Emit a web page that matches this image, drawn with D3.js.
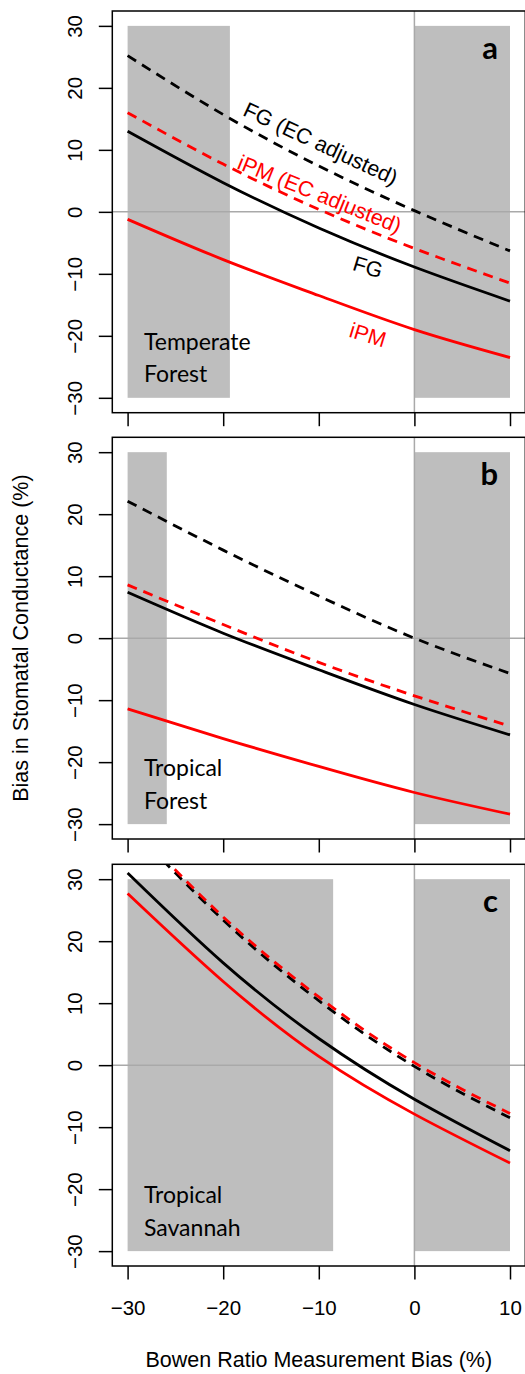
<!DOCTYPE html>
<html>
<head>
<meta charset="utf-8">
<script src="https://cdn.jsdelivr.net/npm/d3@7"></script>
<style>
  html, body { margin: 0; padding: 0; background: #fff; }
  svg { display: block; }
</style>
</head>
<body>
<svg id="chart" width="525" height="1374"></svg>
<script>
// Bowen ratio measurement bias (%) at which each curve is evaluated
const biasX = [-30, -20, -10, 0, 10];

// Panel identifiers and site names
const panelIds = ["a", "b", "c"];
const siteNames = [["Temperate", "Forest"], ["Tropical", "Forest"], ["Tropical", "Savannah"]];

// Bias in stomatal conductance (%) per panel
const fgEC  = [[25.2, 15.7, 7.4, 0.2, -6.3], [22.1, 14.2, 6.8, 0.0, -5.7], [39.0, 23.4, 10.4, -0.2, -8.5]];
const ipmEC = [[16.0, 7.7, 0.4, -5.9, -11.5], [8.6, 2.2, -3.9, -9.3, -14.2], [39.5, 23.9, 11.0, 0.4, -7.8]];
const fg    = [[13.0, 4.7, -2.6, -8.9, -14.4], [7.4, 0.8, -5.1, -10.7, -15.6], [31.0, 16.5, 4.3, -5.5, -13.8]];
const ipm   = [[-1.2, -7.7, -13.5, -19.0, -23.5], [-11.4, -16.2, -20.7, -24.9, -28.4], [27.7, 13.5, 1.4, -7.9, -15.8]];

// Shaded ranges of Bowen ratio bias (x) per panel
const shadeRanges = [[[-30, -19.3], [0, 10]], [[-30, -25.9], [0, 10]], [[-30, -8.5], [0, 10]]];
const shadeSpan = [-30, 30];

// Axis ticks
const xTicks = [-30, -20, -10, 0, 10];
const yTicks = [-30, -20, -10, 0, 10, 20, 30];

const fmt = v => (v < 0 ? "\u2212" + Math.abs(v) : String(v));

const svg = d3.select("#chart");
const axisFont = "'Liberation Sans', Arial, Helvetica, sans-serif";
const noteFont = "Lato, 'Open Sans', sans-serif";

const left = 112.3, right = 525.3;
const panelTops = [11, 437.3, 864.3];
const panelH = 401.7;

const x = d3.scaleLinear().domain([-31.6, 11.6]).range([left, right]);

const series = [
  { vals: fgEC,  color: "#000", dash: "10,7" },
  { vals: ipmEC, color: "#ff0000", dash: "10,7" },
  { vals: fg,    color: "#000", dash: null },
  { vals: ipm,   color: "#ff0000", dash: null }
];

panelIds.forEach((id, p) => {
  const top = panelTops[p];
  const y = d3.scaleLinear().domain([-32.4, 32.4]).range([top + panelH, top]);
  const g = svg.append("g");

  const clipId = "clip-" + id;
  svg.append("clipPath").attr("id", clipId)
    .append("rect").attr("x", left).attr("y", top)
    .attr("width", right - left).attr("height", panelH);

  // shaded bias ranges
  g.selectAll("rect.shade").data(shadeRanges[p]).join("rect")
    .attr("class", "shade")
    .attr("x", d => x(d[0]))
    .attr("width", d => x(d[1]) - x(d[0]))
    .attr("y", y(shadeSpan[1]))
    .attr("height", y(shadeSpan[0]) - y(shadeSpan[1]))
    .attr("fill", "#bebebe");

  // zero reference lines
  g.append("line").attr("x1", left).attr("x2", right)
    .attr("y1", y(0)).attr("y2", y(0))
    .attr("stroke", "#a9a9a9").attr("stroke-width", 1.5);
  g.append("line").attr("x1", x(0)).attr("x2", x(0))
    .attr("y1", top).attr("y2", top + panelH)
    .attr("stroke", "#a9a9a9").attr("stroke-width", 1.5);

  // curves
  const line = d3.line()
    .x((d, i) => x(biasX[i]))
    .y(d => y(d))
    .curve(d3.curveNatural);
  const cg = g.append("g").attr("clip-path", `url(#${clipId})`);
  series.forEach(s => {
    cg.append("path")
      .attr("d", line(s.vals[p]))
      .attr("fill", "none")
      .attr("stroke", s.color)
      .attr("stroke-width", 2.8)
      .attr("stroke-dasharray", s.dash);
  });

  // plot frame
  g.append("rect").attr("x", left).attr("y", top)
    .attr("width", right - left).attr("height", panelH)
    .attr("fill", "none").attr("stroke", "#000").attr("stroke-width", 1.5);

  // y axis
  const ya = g.append("g").attr("transform", `translate(${left},0)`)
    .call(d3.axisLeft(y).tickValues(yTicks).tickSize(13.5).tickSizeOuter(0).tickFormat(fmt));
  ya.select(".domain").remove();
  ya.selectAll(".tick line").attr("stroke", "#000").attr("stroke-width", 1.5);
  ya.selectAll(".tick text")
    .attr("x", null).attr("dy", null)
    .attr("transform", "translate(-30.6,0) rotate(-90)")
    .attr("text-anchor", "middle")
    .attr("font-family", axisFont).attr("font-size", 20.5).attr("fill", "#000");

  // x axis
  const xa = g.append("g").attr("transform", `translate(0,${top + panelH})`)
    .call(d3.axisBottom(x).tickValues(xTicks).tickSize(13.5).tickSizeOuter(0).tickFormat(fmt));
  xa.select(".domain").remove();
  xa.selectAll(".tick line").attr("stroke", "#000").attr("stroke-width", 1.5);
  if (p === panelIds.length - 1) {
    xa.selectAll(".tick text")
      .attr("y", 49).attr("dy", null)
      .attr("font-family", axisFont).attr("font-size", 20.5).attr("fill", "#000");
  } else {
    xa.selectAll(".tick text").remove();
  }

  // panel letter
  g.append("text").attr("x", 498).attr("y", top + 48)
    .attr("text-anchor", "end")
    .attr("font-family", noteFont).attr("font-weight", "bold")
    .attr("font-size", 31).attr("fill", "#000").text(id);

  // site name
  const site = g.append("text").attr("font-family", noteFont)
    .attr("font-size", 23).attr("fill", "#000");
  siteNames[p].forEach((t, k) => {
    site.append("tspan").attr("x", 144)
      .attr("y", y(-27.5) - (siteNames[p].length - 1 - k) * 32.5)
      .text(t);
  });

  // curve labels (first panel)
  if (p === 0) {
    const lab = [
      { t: "FG (EC adjusted)", c: "#000", x: 241.7, y: 115, r: 25, a: "start" },
      { t: "iPM (EC adjusted)", c: "#ff0000", x: 236, y: 168.3, r: 22, a: "start" },
      { t: "FG", c: "#000", x: 365.7, y: 274, r: 17, a: "middle" },
      { t: "iPM", c: "#ff0000", x: 365.7, y: 342, r: 17, a: "middle" }
    ];
    lab.forEach(l => {
      g.append("text")
        .attr("transform", `translate(${l.x},${l.y}) rotate(${l.r})`)
        .attr("text-anchor", l.a)
        .attr("font-family", axisFont).attr("font-size", 21.5)
        .attr("fill", l.c).text(l.t);
    });
  }
});

// axis titles
svg.append("text")
  .attr("transform", `translate(28.3,${(panelTops[1] + panelH / 2)}) rotate(-90)`)
  .attr("text-anchor", "middle")
  .attr("font-family", axisFont).attr("font-size", 21.5).attr("fill", "#000")
  .text("Bias in Stomatal Conductance (%)");

svg.append("text")
  .attr("x", (left + right) / 2).attr("y", 1366.7)
  .attr("text-anchor", "middle")
  .attr("font-family", axisFont).attr("font-size", 21.5).attr("fill", "#000")
  .text("Bowen Ratio Measurement Bias (%)");
</script>
</body>
</html>
